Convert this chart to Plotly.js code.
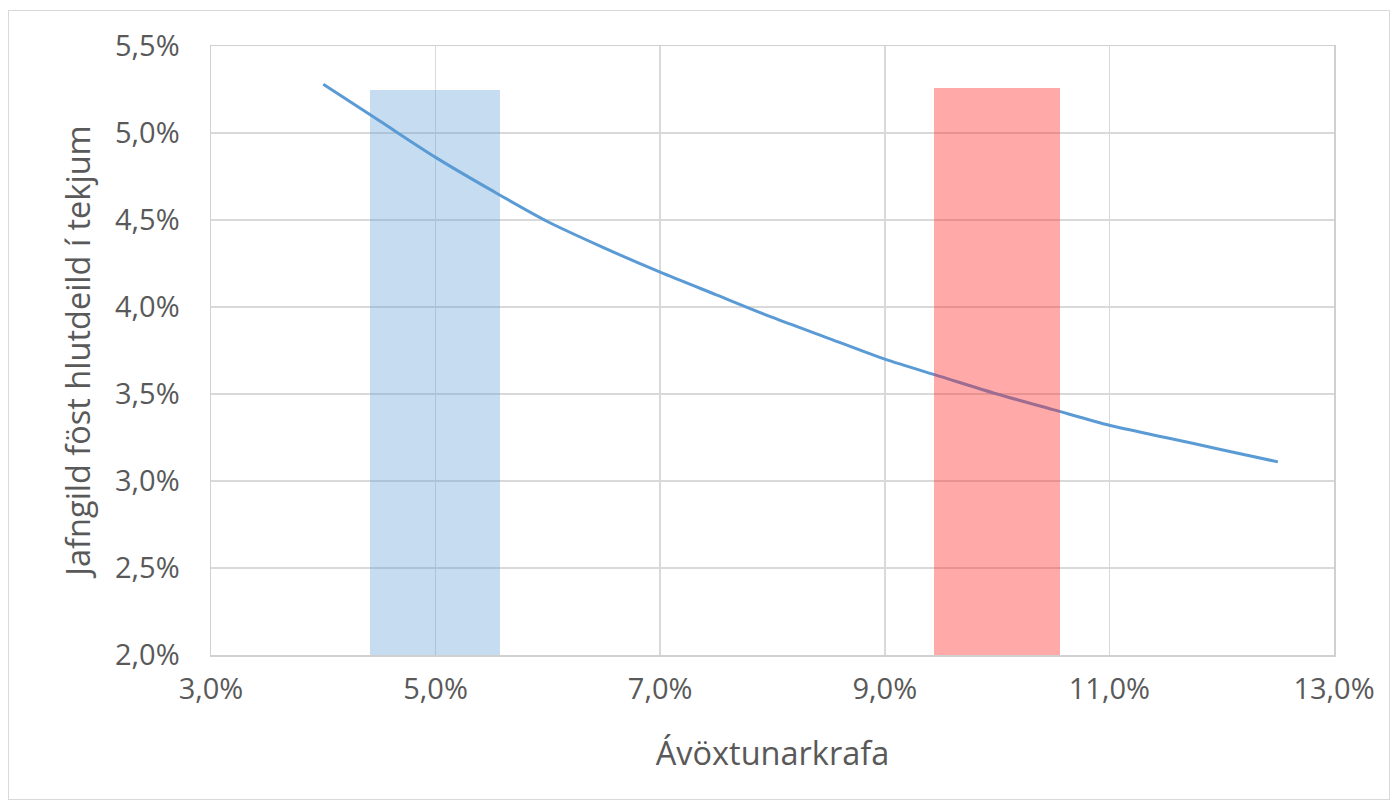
<!DOCTYPE html>
<html>
<head>
<meta charset="utf-8">
<script src="https://cdn.plot.ly/plotly-3.0.1.min.js"></script>
<style>
html,body{margin:0;padding:0;background:#fff;}
#frame{position:absolute;left:8px;top:10px;width:1380px;height:788px;border:1.5px solid #d9d9d9;}
#chart{position:absolute;left:0;top:0;width:1393px;height:805px;}
</style>
</head>
<body>
<div id="frame"></div>
<div id="chart"></div>
<script>
// Line series: rate of return (%) vs equivalent fixed share of revenue (%)
const rates = [4.0, 4.5, 5.0, 5.5, 6.0, 6.5, 7.0, 7.5, 8.0, 8.5, 9.0, 9.5, 10.0, 10.5, 11.0, 11.5, 12.0, 12.5];
const shares = [5.28, 5.07, 4.86, 4.67, 4.49, 4.34, 4.20, 4.07, 3.94, 3.82, 3.70, 3.60, 3.50, 3.41, 3.32, 3.25, 3.18, 3.11];

// Highlight bands
const bandCenters = [4.995, 10.0];
const bandWidths = [1.15, 1.12];
const bandTops = [5.25, 5.26];
const bandColors = ['rgba(91,155,213,0.35)', 'rgba(255,40,40,0.40)'];

const xTicks = [3, 5, 7, 9, 11, 13];
const xTickLabels = ['3,0%', '5,0%', '7,0%', '9,0%', '11,0%', '13,0%'];
const yTicks = [2.0, 2.5, 3.0, 3.5, 4.0, 4.5, 5.0, 5.5];
const yTickLabels = ['2,0%', '2,5%', '3,0%', '3,5%', '4,0%', '4,5%', '5,0%', '5,5%'];

const xTitle = 'Ávöxtunarkrafa';
const yTitle = 'Jafngild föst hlutdeild í tekjum';

const xRange = [3, 13];
const yRange = [2, 5.5];

const traces = [
  {
    type: 'scatter', mode: 'lines',
    x: rates, y: shares,
    line: {color: '#5b9bd5', width: 3, shape: 'spline', smoothing: 0.8},
    hoverinfo: 'skip', showlegend: false
  },
  {
    type: 'bar', xaxis: 'x2', yaxis: 'y2',
    x: bandCenters, y: bandTops.map(v => v - 1.97), base: 1.97,
    width: bandWidths,
    marker: {color: bandColors, line: {width: 0}},
    hoverinfo: 'skip', showlegend: false
  }
];

const font = {family: '"Open Sans", Lato, sans-serif', size: 29, color: '#595959'};
const titleFont = {family: '"Open Sans", Lato, sans-serif', size: 32.5, color: '#595959'};

const layout = {
  width: 1393, height: 805,
  margin: {l: 211, r: 59, t: 46, b: 150},
  paper_bgcolor: 'rgba(0,0,0,0)', plot_bgcolor: '#fff',
  font: font,
  showlegend: false,
  xaxis: {
    range: xRange, tickmode: 'array', tickvals: xTicks, ticktext: xTickLabels,
    showgrid: true, gridcolor: '#d9d9d9', gridwidth: 1.5,
    showline: true, linecolor: '#d0d0d0', linewidth: 1.5, mirror: true,
    zeroline: false,
    ticks: 'outside', ticklen: 8, tickcolor: 'rgba(0,0,0,0)',
    tickfont: font,
    title: {text: xTitle, font: titleFont, standoff: 36}
  },
  yaxis: {
    range: yRange, tickmode: 'array', tickvals: yTicks, ticktext: yTickLabels,
    showgrid: true, gridcolor: '#d9d9d9', gridwidth: 1.5,
    showline: true, linecolor: '#d0d0d0', linewidth: 1.5, mirror: true,
    zeroline: false,
    ticks: 'outside', ticklen: 24, tickcolor: 'rgba(0,0,0,0)',
    tickfont: font,
    title: {text: yTitle, font: titleFont, standoff: 14}
  },
  xaxis2: {range: xRange, overlaying: 'x', visible: false, showgrid: false, zeroline: false},
  yaxis2: {range: yRange, overlaying: 'y', visible: false, showgrid: false, zeroline: false},
  bargap: 0
};

Plotly.newPlot('chart', traces, layout, {displayModeBar: false, staticPlot: true});
</script>
</body>
</html>
